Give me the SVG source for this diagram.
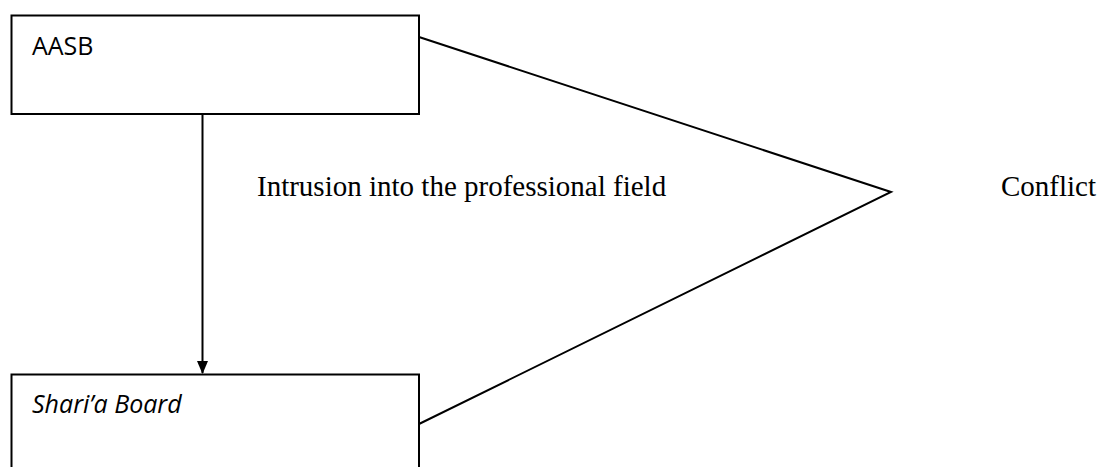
<svg xmlns="http://www.w3.org/2000/svg" width="1100" height="467" viewBox="0 0 1100 467">
<defs>
<style>
.box{fill:#fff;stroke:#000;stroke-width:2}
.lbl{font-family:"Open Sans","Liberation Sans",sans-serif;font-size:25px;fill:#000}
.ser{font-family:"Liberation Serif","Times New Roman",serif;font-size:29px;fill:#000}
.con{fill:none;stroke:#000;stroke-width:2}
</style>
<marker id="ah" markerWidth="13" markerHeight="11" refX="12" refY="5.5" orient="auto" markerUnits="userSpaceOnUse">
<path d="M0,0 L13,5.5 L0,11 z" fill="#000"/>
</marker>
</defs>
<rect width="1100" height="467" fill="#fff"/>
<g id="aasb">
<rect class="box" x="11.5" y="15.5" width="407.5" height="98.5"/>
<text class="lbl" x="32" y="55">AASB</text>
</g>
<g id="sharia">
<rect class="box" x="11.5" y="374.5" width="407.5" height="110"/>
<text class="lbl" x="32" y="413" font-style="italic">Shari’a Board</text>
</g>
<g id="connectors">
<line class="con" x1="202.5" y1="114" x2="202.5" y2="373" marker-end="url(#ah)"/>
<polyline class="con" points="419,37 891,192 419,424"/>
</g>
<g id="labels">
<text class="ser" x="257" y="196">Intrusion into the professional field</text>
<text class="ser" x="1001" y="196">Conflict</text>
</g>
</svg>
